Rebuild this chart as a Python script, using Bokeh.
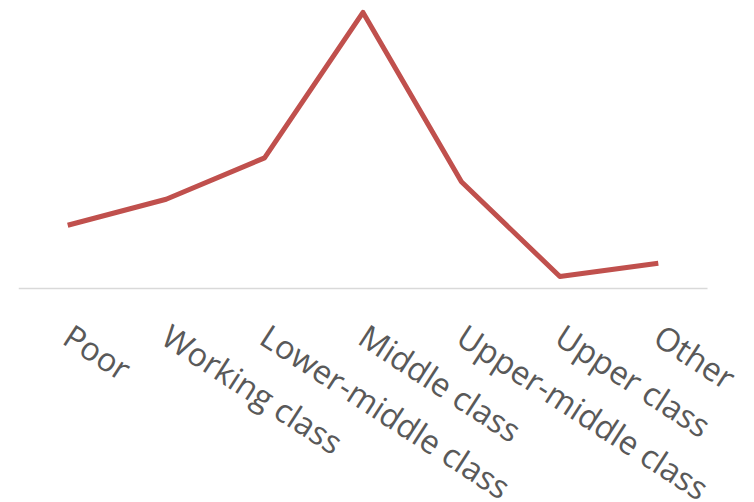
from bokeh.plotting import figure
from bokeh.models import Range1d, LabelSet, ColumnDataSource
from bokeh.core.properties import value
from bokeh.embed import file_html
from bokeh.resources import INLINE
import math

categories = ["Poor", "Working class", "Lower-middle class", "Middle class",
              "Upper-middle class", "Upper class", "Other"]
values = [9.0, 12.7, 18.6, 39.3, 15.2, 1.7, 3.6]

n = len(categories)
xs = list(range(n))

top = 41.0
bottom = -top * 214 / 288
x_end = n - 0.5 + 47 / (689 / n)

p = figure(width=754, height=502, x_range=Range1d(-0.5, x_end), y_range=Range1d(bottom, top),
           output_backend="svg", toolbar_location=None,
           min_border_left=18, min_border_right=0, min_border_top=0, min_border_bottom=0)

# category baseline (axis line)
p.segment(x0=[-0.5], x1=[n - 0.5], y0=[0], y1=[0], line_color="#d9d9d9", line_width=1.5)

p.line(xs, values, line_color="#C0504D", line_width=5, line_join="round")

p.xaxis.visible = False
p.yaxis.visible = False
p.xgrid.visible = False
p.ygrid.visible = False
p.outline_line_color = None

src = ColumnDataSource(dict(x=xs, y=[0] * n, text=categories))
labels = LabelSet(x="x", y="y", text="text", source=src,
                  angle=-math.radians(33), x_offset=12, y_offset=-25,
                  text_align="left", text_baseline="top",
                  text_font=value("Open Sans"), text_font_size="32.5px", text_color="#595959")
p.add_layout(labels)

open("out.html", "w").write(file_html(p, INLINE))
